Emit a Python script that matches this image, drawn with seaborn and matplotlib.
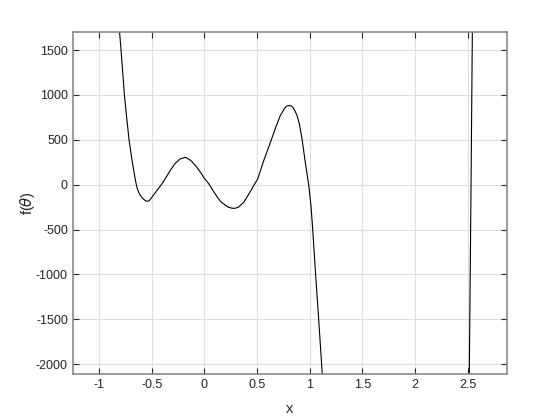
import pandas as pd
import matplotlib
matplotlib.use("Agg")
import matplotlib.pyplot as plt
import seaborn as sns

# values (left branch)
x_left = [-0.806, -0.792, -0.776, -0.760, -0.738, -0.716, -0.700, -0.685, -0.670, -0.660,
          -0.650, -0.640, -0.630, -0.618, -0.607, -0.590, -0.570, -0.555, -0.543, -0.525,
          -0.500, -0.448, -0.417, -0.400, -0.360, -0.322, -0.280, -0.230, -0.180, -0.130,
          -0.080, -0.030, 0.000, 0.040, 0.070, 0.100, 0.130, 0.160, 0.220, 0.260,
          0.287, 0.320, 0.373, 0.436, 0.470, 0.505, 0.560, 0.626, 0.680, 0.720,
          0.760, 0.780, 0.800, 0.820, 0.840, 0.860, 0.879, 0.900, 0.926, 0.957,
          0.989, 1.011, 1.027, 1.055, 1.084, 1.112, 1.118]
y_left = [1700, 1500, 1250, 1000, 740, 500, 370, 250, 150, 80,
          17, -35, -70, -100, -122, -148, -170, -180, -185, -180,
          -141, -60, -11, 15, 90, 164, 235, 287, 305, 270,
          205, 125, 68, 12, -45, -100, -152, -195, -248, -262,
          -264, -253, -197, -75, -5, 63, 260, 472, 650, 770,
          850, 875, 882, 880, 860, 820, 770, 680, 510, 249,
          0, -234, -490, -1000, -1500, -2000, -2110]

# right branch, nearly vertical near x = 2.5
x_right = [2.514, 2.529, 2.543]
y_right = [-2110, -200, 1710]

x_ticks = [-1, -0.5, 0, 0.5, 1, 1.5, 2, 2.5]
x_tick_labels = ["-1", "-0.5", "0", "0.5", "1", "1.5", "2", "2.5"]
y_ticks = [-2000, -1500, -1000, -500, 0, 500, 1000, 1500]
y_tick_labels = ["-2000", "-1500", "-1000", "-500", "0", "500", "1000", "1500"]

sns.set_theme(style="whitegrid")
plt.rcParams["font.family"] = ["Liberation Sans", "DejaVu Sans"]
plt.rcParams["axes.unicode_minus"] = False

fig = plt.figure(figsize=(5.6, 4.2), dpi=100)
ax = fig.add_axes([0.13, 0.11, 0.775, 0.815])

left = pd.DataFrame({"x": x_left, "y": y_left})
right = pd.DataFrame({"x": x_right, "y": y_right})
sns.lineplot(data=left, x="x", y="y", sort=False, color="black", linewidth=0.8, ax=ax)
sns.lineplot(data=right, x="x", y="y", sort=False, color="black", linewidth=0.8, ax=ax)

ax.set_xlim(-1.25, 2.87)
ax.set_ylim(-2108, 1707)
ax.set_xticks(x_ticks)
ax.set_xticklabels(x_tick_labels)
ax.set_yticks(y_ticks)
ax.set_yticklabels(y_tick_labels)

ax.set_facecolor("white")
ax.grid(True, color="#dedede", linewidth=0.8)
for s in ax.spines.values():
    s.set_visible(True)
    s.set_color("#8a8a8a")
    s.set_linewidth(1.2)

ax.tick_params(axis="both", which="both", direction="in", length=4, width=0.8,
               color="#262626", labelsize=9, labelcolor="#262626",
               top=True, right=True, bottom=True, left=True)

ax.set_xlabel("x", fontsize=10.5, color="#262626", labelpad=8)
ax.set_ylabel(r"f($\theta$)", fontsize=10.5, color="#262626", labelpad=-1)

fig.savefig("out.png", dpi=100, facecolor="white")
